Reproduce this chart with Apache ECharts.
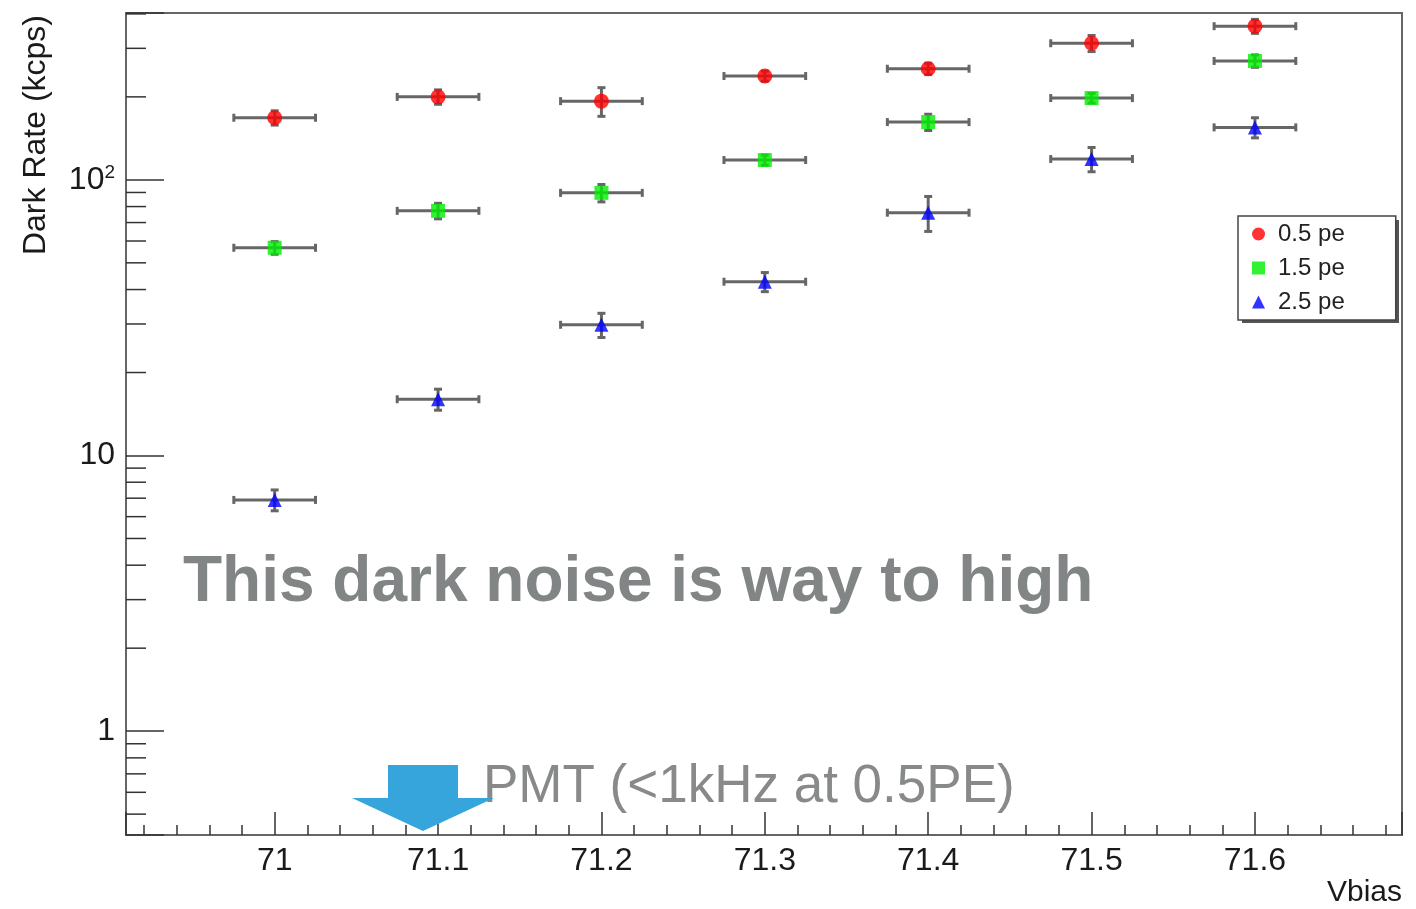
<!DOCTYPE html>
<html>
<head>
<meta charset="utf-8">
<script src="https://cdn.jsdelivr.net/npm/echarts@6/dist/echarts.min.js"></script>
<style>
  html, body { margin: 0; background: #fff; }
  #chart { width: 1416px; height: 909px; }
</style>
</head>
<body>
<div id="chart"></div>
<script>
// bias voltage points (V)
const vbias = [71.0, 71.1, 71.2, 71.3, 71.4, 71.5, 71.6];
const vbiasErr = 0.025;

// dark rate in kcps, with symmetric errors
const rate05 = [168, 200, 193, 238, 253, 313, 361];
const err05 = [10, 12, 23, 10, 12, 21, 21];
const rate15 = [56.7, 77.2, 89.7, 118, 162, 198, 270];
const err15 = [3, 5, 6.5, 5, 11, 8, 14];
const rate25 = [6.9, 16.0, 29.8, 42.7, 76, 119, 155];
const err25 = [0.6, 1.4, 3, 3.4, 11, 12, 13];

const seriesNames = ["0.5 pe", "1.5 pe", "2.5 pe"];

// log axis minor ticks (ROOT style 2..9 per decade)
const yMinorTicks = [0.5, 0.6, 0.7, 0.8, 0.9, 2, 3, 4, 5, 6, 7, 8, 9,
  20, 30, 40, 50, 60, 70, 80, 90, 200, 300, 400];

const font = "'Liberation Sans', Arial, Helvetica, sans-serif";
const xMin = 70.909, xMax = 71.69;
const yMin = 0.42, yMax = 403;

const chart = echarts.init(document.getElementById("chart"));

function withErrors(rates, errs) {
  return vbias.map((x, i) => [x, rates[i], rates[i] - errs[i], rates[i] + errs[i]]);
}

function errorBar(params, api) {
  const x = api.value(0), y = api.value(1);
  const left = api.coord([x - vbiasErr, y]);
  const right = api.coord([x + vbiasErr, y]);
  const top = api.coord([x, api.value(3)]);
  const bottom = api.coord([x, api.value(2)]);
  const cap = 4;
  const style = { stroke: "#666", lineWidth: 3 };
  const line = (x1, y1, x2, y2) => ({ type: "line", shape: { x1, y1, x2, y2 }, style });
  return {
    type: "group",
    children: [
      line(left[0], left[1], right[0], right[1]),
      line(left[0], left[1] - cap, left[0], left[1] + cap),
      line(right[0], right[1] - cap, right[0], right[1] + cap),
      line(top[0], top[1], bottom[0], bottom[1]),
      line(top[0] - cap, top[1], top[0] + cap, top[1]),
      line(bottom[0] - cap, bottom[1], bottom[0] + cap, bottom[1])
    ]
  };
}

function minorTick(params, api) {
  const p = api.coord([xMin, api.value(1)]);
  const x0 = params.coordSys.x;
  return {
    type: "line",
    shape: { x1: x0, y1: p[1], x2: x0 + 20, y2: p[1] },
    style: { stroke: "#333", lineWidth: 1.5 }
  };
}

const markerSeries = [
  { name: seriesNames[0], rates: rate05, errs: err05, color: "#ff0000", symbol: "circle", size: 15 },
  { name: seriesNames[1], rates: rate15, errs: err15, color: "#00ee00", symbol: "rect", size: 14 },
  { name: seriesNames[2], rates: rate25, errs: err25, color: "#0000ff", symbol: "triangle", size: 14 }
];

const series = [];
markerSeries.forEach((s) => {
  series.push({
    name: s.name + " err",
    type: "custom",
    renderItem: errorBar,
    encode: { x: 0, y: 1 },
    data: withErrors(s.rates, s.errs),
    z: 2,
    silent: true
  });
});
markerSeries.forEach((s) => {
  series.push({
    name: s.name,
    type: "scatter",
    symbol: s.symbol,
    symbolSize: s.size,
    itemStyle: { color: s.color },
    data: vbias.map((x, i) => [x, s.rates[i]]),
    z: 3
  });
});
series.push({
  name: "minor",
  type: "custom",
  renderItem: minorTick,
  encode: { x: 0, y: 1 },
  data: yMinorTicks.map((v) => [xMin, v]),
  clip: false,
  silent: true,
  z: 4
});

chart.setOption({
  animation: false,
  backgroundColor: "#fff",
  grid: {
    left: 126, right: 14, top: 13, bottom: 74,
    show: true, borderColor: "#666", borderWidth: 2, backgroundColor: "transparent"
  },
  legend: {
    orient: "vertical",
    left: 1238,
    top: 216,
    data: seriesNames,
    itemWidth: 13,
    itemHeight: 13,
    itemGap: 10,
    padding: [6, 51, 6, 14],
    backgroundColor: "#fff",
    borderColor: "#444",
    borderWidth: 1.5,
    borderRadius: 0,
    textStyle: { fontFamily: font, fontSize: 24, lineHeight: 24, color: "#222", padding: [0, 0, 0, 8] }
  },
  xAxis: {
    type: "value",
    min: xMin,
    max: xMax,
    splitNumber: 8,
    splitLine: { show: false },
    axisLine: { lineStyle: { color: "#666", width: 2 } },
    axisTick: { inside: true, length: 23, lineStyle: { color: "#333", width: 1.5 } },
    minorTick: { show: true, splitNumber: 5, length: 10, lineStyle: { color: "#333", width: 1.5 } },
    axisLabel: {
      showMinLabel: false, showMaxLabel: false,
      margin: 10,
      fontFamily: font, fontSize: 32, color: "#1a1a1a"
    }
  },
  yAxis: {
    type: "log",
    logBase: 10,
    min: yMin,
    max: yMax,
    splitLine: { show: false },
    axisLine: { lineStyle: { color: "#666", width: 2 } },
    axisTick: { inside: true, length: 38, lineStyle: { color: "#333", width: 1.5 } },
    axisLabel: {
      margin: 11,
      fontFamily: font,
      fontSize: 32,
      color: "#1a1a1a",
      formatter: (v) => {
        const l = Math.log10(v);
        const e = Math.round(l);
        if (Math.abs(l - e) > 1e-6) return "";
        if (e === 2) return "{n|10}{s|2}";
        return String(Math.pow(10, e));
      },
      rich: {
        n: { fontFamily: font, fontSize: 32, color: "#1a1a1a", lineHeight: 34 },
        s: { fontFamily: font, fontSize: 19, color: "#1a1a1a", verticalAlign: "top", lineHeight: 19 }
      }
    }
  },
  graphic: [
    {
      // legend drop shadow (ROOT style)
      type: "rect",
      shape: { x: 1242, y: 220, width: 157, height: 103 },
      style: { fill: "#555" },
      z: 0
    },
    {
      type: "text",
      x: 36, y: 15,
      rotation: Math.PI / 2,
      style: { text: "Dark Rate (kcps)", font: "32px " + font, fill: "#1a1a1a", align: "right", verticalAlign: "middle" }
    },
    {
      type: "text",
      right: 14, top: 878,
      style: { text: "Vbias", font: "30px " + font, fill: "#1a1a1a" }
    },
    {
      type: "text",
      x: 183, y: 551,
      style: { text: "This dark noise is way to high", font: "bold 64px " + font, fill: "#828585", verticalAlign: "top" }
    },
    {
      type: "text",
      x: 483, y: 761,
      style: { text: "PMT (<1kHz at 0.5PE)", font: "53px " + font, fill: "#888a8a", verticalAlign: "top" }
    },
    {
      type: "polygon",
      shape: { points: [[388, 765], [458, 765], [458, 798], [494, 798], [423, 831], [352, 798], [388, 798]] },
      style: { fill: "#35a5dc" },
      z: 10
    }
  ],
  series
});
</script>
</body>
</html>
